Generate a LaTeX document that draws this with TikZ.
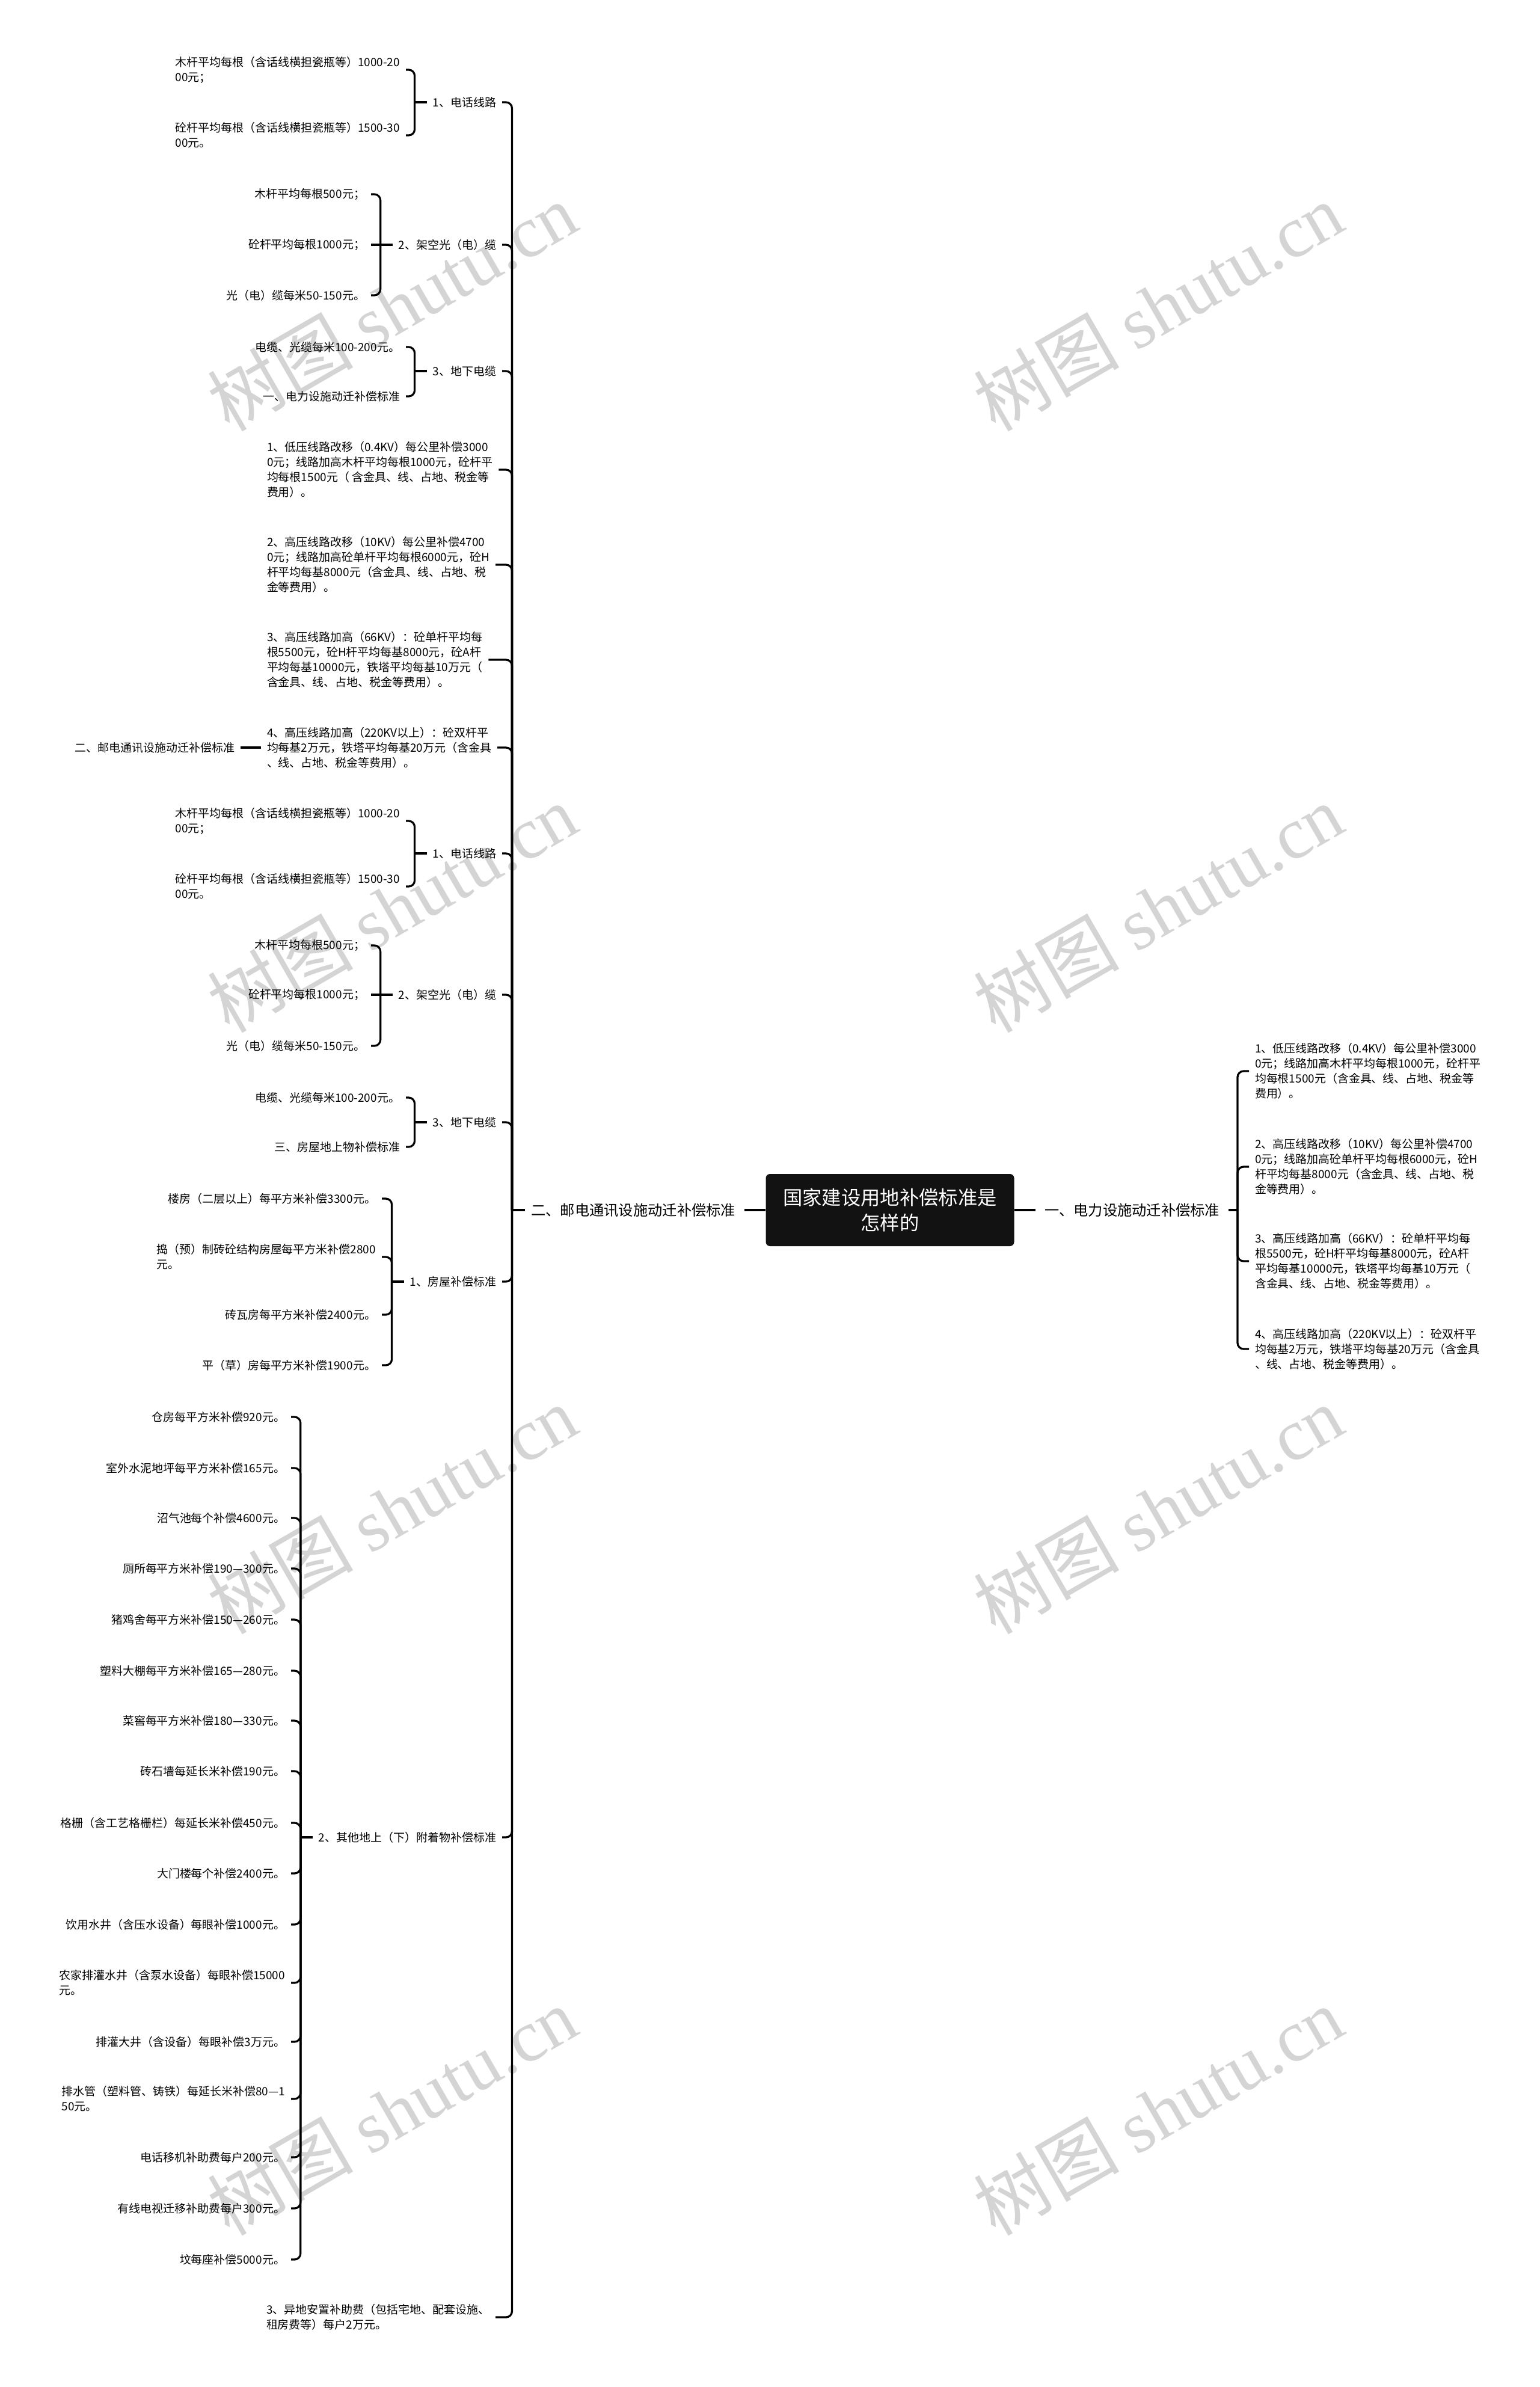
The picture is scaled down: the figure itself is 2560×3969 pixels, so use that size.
\documentclass[tikz,border=0pt]{standalone}
\usepackage{fontspec}
\setmainfont{Noto Sans CJK SC}
\newfontfamily\wmcjk{Noto Sans CJK SC}
\newfontfamily\wmlat{Liberation Serif}
\definecolor{wmgray}{RGB}{212,212,212}
\definecolor{rootfill}{RGB}{18,18,18}
\begin{document}
\begin{tikzpicture}[x=0.2mm,y=-0.2mm,
  conn/.style={line width=1.85pt, rounded corners=2mm},
  stub/.style={line width=1.85pt},
  tx/.style={inner sep=0pt, outer sep=0pt, align=left, font=\fontsize{10.8pt}{14.2pt}\selectfont},
  txl/.style={tx, anchor=east},
  txr/.style={tx, anchor=west},
  lvone/.style={inner sep=0pt, outer sep=0pt, font=\fontsize{13.8pt}{17pt}\selectfont},
  wm/.style={text=wmgray, rotate=30, inner sep=0pt, font=\fontsize{69pt}{80pt}\selectfont}
]
\useasboundingbox (0,0) rectangle (2560,3969);
\fill[white] (0,0) rectangle (2560,3969);

% watermarks
\foreach \r [count=\i] in {510,1510,2510,3510}{
  \node[wm] (wa\i) at (652,\r) {{\wmcjk 树图} {\wmlat shutu.cn}};
  \node[wm] (wb\i) at (1926,\r) {{\wmcjk 树图} {\wmlat shutu.cn}};
}

% root
\node[fill=rootfill, text=white, rounded corners=1.4mm, minimum width=82.6mm, minimum height=24mm,
      align=center, inner sep=0pt, font=\fontsize{18.4pt}{24pt}\selectfont] (root) at (1480,2012)
      {国家建设用地补偿标准是\\怎样的};
\node[lvone, anchor=west] (n1) at (1737,2012) {一、电力设施动迁补偿标准};
\node[lvone, anchor=east] (n2) at (1223,2012) {二、邮电通讯设施动迁补偿标准};
\draw[stub] (root.east) -- ([xshift=-3mm]n1.west);
\draw[stub] (root.west) -- ([xshift=3mm]n2.east);
\coordinate (JR) at ([xshift=6mm]n1.east);
\draw[stub] ([xshift=3mm]n1.east) -- (JR);
\coordinate (JL) at ([xshift=-6.4mm]n2.west);
\draw[stub] ([xshift=-2mm]n2.west) -- (JL);

% right side
\node[txr] (r1) at (2087,1781) {1、低压线路改移（0.4KV）每公里补偿3000\\0元；线路加高木杆平均每根1000元，砼杆平\\均每根1500元（含金具、线、占地、税金等\\费用）。};
\node[txr] (r2) at (2087,1940) {2、高压线路改移（10KV）每公里补偿4700\\0元；线路加高砼单杆平均每根6000元，砼H\\杆平均每基8000元（含金具、线、占地、税\\金等费用）。};
\node[txr] (r3) at (2087,2097) {3、高压线路加高（66KV）：砼单杆平均每\\根5500元，砼H杆平均每基8000元，砼A杆\\平均每基10000元，铁塔平均每基10万元（\\含金具、线、占地、税金等费用）。};
\node[txr] (r4) at (2087,2243) {4、高压线路加高（220KV以上）：砼双杆平\\均每基2万元，铁塔平均每基20万元（含金具\\、线、占地、税金等费用）。};
\foreach \c in {r1,r2,r3,r4} \draw[conn] (JR) |- ([xshift=-2mm]\c.west);

% left main bracket children
\node[txl] (g1) at (825,170) {1、电话线路};
\node[txl] (g2) at (825,407) {2、架空光（电）缆};
\node[txl] (g3) at (825,617) {3、地下电缆};
\node[txr] (p1) at (444,781) {1、低压线路改移（0.4KV）每公里补偿3000\\0元；线路加高木杆平均每根1000元，砼杆平\\均每根1500元（ 含金具、线、占地、税金等\\费用）。};
\node[txr] (p2) at (444,939) {2、高压线路改移（10KV）每公里补偿4700\\0元；线路加高砼单杆平均每根6000元，砼H\\杆平均每基8000元（含金具、线、占地、税\\金等费用）。};
\node[txr] (p3) at (444,1097) {3、高压线路加高（66KV）：砼单杆平均每\\根5500元，砼H杆平均每基8000元，砼A杆\\平均每基10000元，铁塔平均每基10万元（\\含金具、线、占地、税金等费用）。};
\node[txr] (p4) at (444,1243) {4、高压线路加高（220KV以上）：砼双杆平\\均每基2万元，铁塔平均每基20万元（含金具\\、线、占地、税金等费用）。};
\node[txl] (g4) at (825,1419) {1、电话线路};
\node[txl] (g5) at (825,1654) {2、架空光（电）缆};
\node[txl] (g6) at (825,1866) {3、地下电缆};
\node[txl] (g7) at (825,2131) {1、房屋补偿标准};
\node[txl] (g8) at (825,3055) {2、其他地上（下）附着物补偿标准};
\node[txr] (g9) at (443,3853) {3、异地安置补助费（包括宅地、配套设施、\\租房费等）每户2万元。};
\foreach \c in {g1,g2,g3,p1,p2,p3,p4,g4,g5,g6,g7,g8,g9} \draw[conn] (JL) |- ([xshift=2mm]\c.east);

% p4 child
\node[txl] (q4) at (390,1243) {二、邮电通讯设施动迁补偿标准};
\draw[stub] ([xshift=-2mm]p4.west) -- ([xshift=2mm]q4.east);

% group g1
\coordinate (J1) at ([xshift=-6mm]g1.west);
\draw[stub] ([xshift=-2mm]g1.west) -- (J1);
\node[txl] (a1) at (665,116) {木杆平均每根（含话线横担瓷瓶等）1000-20\\00元；};
\node[txl] (a2) at (665,225) {砼杆平均每根（含话线横担瓷瓶等）1500-30\\00元。};
\foreach \c in {a1,a2} \draw[conn] (J1) |- ([xshift=2mm]\c.east);

% group g2
\coordinate (J2) at ([xshift=-6mm]g2.west);
\draw[stub] ([xshift=-2mm]g2.west) -- (J2);
\node[txl] (b1) at (607,323) {木杆平均每根500元；};
\node[txl] (b2) at (607,407) {砼杆平均每根1000元；};
\node[txl] (b3) at (607,491) {光（电）缆每米50-150元。};
\foreach \c in {b1,b3} \draw[conn] (J2) |- ([xshift=2mm]\c.east);
\draw[stub] (J2) -- ([xshift=2mm]b2.east);

% group g3
\coordinate (J3) at ([xshift=-6mm]g3.west);
\draw[stub] ([xshift=-2mm]g3.west) -- (J3);
\node[txl] (c1) at (665,577) {电缆、光缆每米100-200元。};
\node[txl] (c2) at (665,659) {一、电力设施动迁补偿标准};
\foreach \c in {c1,c2} \draw[conn] (J3) |- ([xshift=2mm]\c.east);

% group g4
\coordinate (J4) at ([xshift=-6mm]g4.west);
\draw[stub] ([xshift=-2mm]g4.west) -- (J4);
\node[txl] (d1) at (665,1365) {木杆平均每根（含话线横担瓷瓶等）1000-20\\00元；};
\node[txl] (d2) at (665,1474) {砼杆平均每根（含话线横担瓷瓶等）1500-30\\00元。};
\foreach \c in {d1,d2} \draw[conn] (J4) |- ([xshift=2mm]\c.east);

% group g5
\coordinate (J5) at ([xshift=-6mm]g5.west);
\draw[stub] ([xshift=-2mm]g5.west) -- (J5);
\node[txl] (e1) at (607,1572) {木杆平均每根500元；};
\node[txl] (e2) at (607,1654) {砼杆平均每根1000元；};
\node[txl] (e3) at (607,1739) {光（电）缆每米50-150元。};
\foreach \c in {e1,e3} \draw[conn] (J5) |- ([xshift=2mm]\c.east);
\draw[stub] (J5) -- ([xshift=2mm]e2.east);

% group g6
\coordinate (J6) at ([xshift=-6mm]g6.west);
\draw[stub] ([xshift=-2mm]g6.west) -- (J6);
\node[txl] (f1) at (665,1825) {电缆、光缆每米100-200元。};
\node[txl] (f2) at (665,1907) {三、房屋地上物补偿标准};
\foreach \c in {f1,f2} \draw[conn] (J6) |- ([xshift=2mm]\c.east);

% group g7
\coordinate (J7) at ([xshift=-6mm]g7.west);
\draw[stub] ([xshift=-2mm]g7.west) -- (J7);
\node[txl] (h1) at (625,1993) {楼房（二层以上）每平方米补偿3300元。};
\node[txl] (h2) at (625,2090) {捣（预）制砖砼结构房屋每平方米补偿2800\\元。};
\node[txl] (h3) at (625,2186) {砖瓦房每平方米补偿2400元。};
\node[txl] (h4) at (625,2270) {平（草）房每平方米补偿1900元。};
\foreach \c in {h1,h2,h3,h4} \draw[conn] (J7) |- ([xshift=2mm]\c.east);

% group g8
\coordinate (J8) at ([xshift=-6mm]g8.west);
\draw[stub] ([xshift=-2mm]g8.west) -- (J8);
\node[txl] (k1) at (474,2356) {仓房每平方米补偿920元。};
\node[txl] (k2) at (474,2441) {室外水泥地坪每平方米补偿165元。};
\node[txl] (k3) at (474,2524) {沼气池每个补偿4600元。};
\node[txl] (k4) at (474,2608) {厕所每平方米补偿190—300元。};
\node[txl] (k5) at (474,2693) {猪鸡舍每平方米补偿150—260元。};
\node[txl] (k6) at (474,2778) {塑料大棚每平方米补偿165—280元。};
\node[txl] (k7) at (474,2861) {菜窖每平方米补偿180—330元。};
\node[txl] (k8) at (474,2945) {砖石墙每延长米补偿190元。};
\node[txl] (k9) at (474,3031) {格栅（含工艺格栅栏）每延长米补偿450元。};
\node[txl] (k10) at (474,3115) {大门楼每个补偿2400元。};
\node[txl] (k11) at (474,3200) {饮用水井（含压水设备）每眼补偿1000元。};
\node[txl] (k12) at (474,3297) {农家排灌水井（含泵水设备）每眼补偿15000\\元。};
\node[txl] (k13) at (474,3395) {排灌大井（含设备）每眼补偿3万元。};
\node[txl] (k14) at (474,3490) {排水管（塑料管、铸铁）每延长米补偿80—1\\50元。};
\node[txl] (k15) at (474,3587) {电话移机补助费每户200元。};
\node[txl] (k16) at (474,3672) {有线电视迁移补助费每户300元。};
\node[txl] (k17) at (474,3757) {坟每座补偿5000元。};
\foreach \c in {k1,k2,k3,k4,k5,k6,k7,k8,k9,k10,k11,k12,k13,k14,k15,k16,k17}
  \draw[conn] (J8) |- ([xshift=2mm]\c.east);
\end{tikzpicture}
\end{document}
